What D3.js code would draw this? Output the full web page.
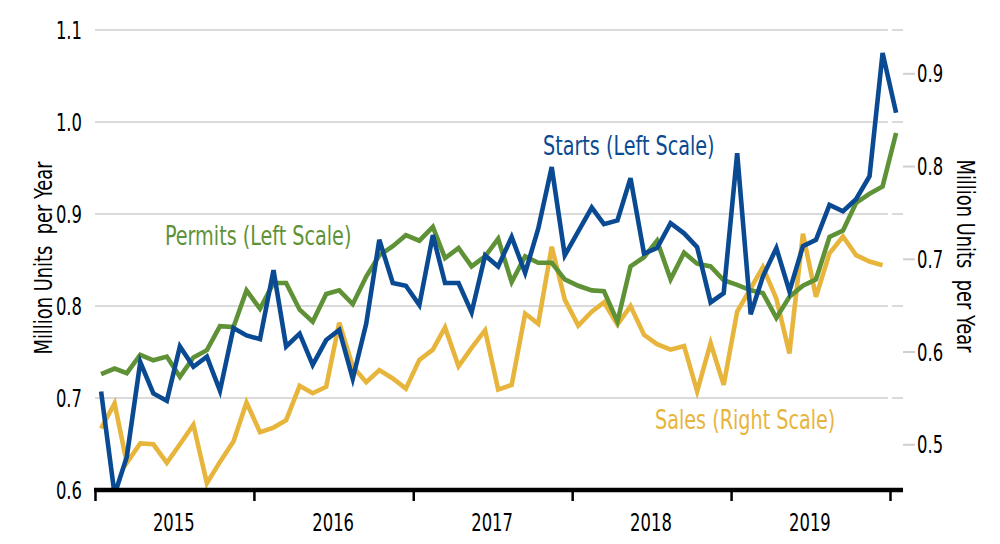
<!DOCTYPE html>
<html>
<head>
<meta charset="utf-8">
<script src="https://cdn.jsdelivr.net/npm/d3@7"></script>
<style>
  body { margin: 0; background: #fff; }
  text { font-family: "Liberation Sans Narrow", "DejaVu Sans Condensed", sans-serif; }
</style>
</head>
<body>
<script>
// monthly, Jan 2015 .. Jan 2020 (sales ends Dec 2019)
var months = d3.timeMonth.range(new Date(2015, 0, 1), new Date(2020, 1, 1));
var years = [2015, 2016, 2017, 2018, 2019];

var starts = [0.707, 0.595, 0.636, 0.739, 0.705, 0.697, 0.756, 0.734, 0.745, 0.708, 0.776, 0.768,
              0.764, 0.839, 0.756, 0.770, 0.736, 0.763, 0.774, 0.721, 0.781, 0.872, 0.825, 0.822,
              0.801, 0.877, 0.825, 0.825, 0.793, 0.855, 0.843, 0.875, 0.836, 0.884, 0.951, 0.855,
              0.881, 0.907, 0.889, 0.893, 0.939, 0.857, 0.863, 0.890, 0.879, 0.864, 0.804, 0.814,
              0.966, 0.791, 0.832, 0.863, 0.816, 0.865, 0.872, 0.910, 0.903, 0.916, 0.941, 1.075,
              1.010];

var permits = [0.726, 0.732, 0.727, 0.747, 0.741, 0.745, 0.723, 0.744, 0.752, 0.778, 0.777, 0.817,
               0.797, 0.825, 0.825, 0.796, 0.783, 0.813, 0.817, 0.802, 0.832, 0.855, 0.865, 0.877,
               0.871, 0.886, 0.852, 0.863, 0.843, 0.854, 0.873, 0.826, 0.854, 0.847, 0.847, 0.829,
               0.822, 0.817, 0.816, 0.783, 0.843, 0.853, 0.871, 0.829, 0.858, 0.846, 0.843, 0.828,
               0.823, 0.817, 0.814, 0.787, 0.810, 0.822, 0.829, 0.875, 0.882, 0.912, 0.922, 0.930,
               0.988];

var sales = [0.517, 0.544, 0.480, 0.501, 0.500, 0.480, 0.500, 0.521, 0.458, 0.481, 0.503, 0.545,
             0.513, 0.518, 0.526, 0.563, 0.555, 0.562, 0.631, 0.584, 0.567, 0.580, 0.571, 0.560,
             0.591, 0.602, 0.626, 0.584, 0.604, 0.623, 0.559, 0.564, 0.641, 0.630, 0.713, 0.656,
             0.628, 0.643, 0.653, 0.629, 0.649, 0.618, 0.608, 0.602, 0.606, 0.557, 0.609, 0.564,
             0.643, 0.668, 0.691, 0.657, 0.598, 0.727, 0.659, 0.706, 0.724, 0.704, 0.697, 0.693];

var leftTicks = [0.6, 0.7, 0.8, 0.9, 1.0, 1.1];
var rightTicks = [0.5, 0.6, 0.7, 0.8, 0.9];

var width = 1000, height = 544;
var plotLeft = 95, plotRight = 903, plotTop = 30, plotBottom = 490;

var blue = "#0a4a92", green = "#5f9237", gold = "#e7b53c";

var x = d3.scaleTime()
    .domain([new Date(2015, 0, 1), new Date(2020, 0, 1)])
    .range([plotLeft, 890]);
var yL = d3.scaleLinear().domain([0.6, 1.1]).range([plotBottom, plotTop]);
var yR = d3.scaleLinear().domain([0.4507, 0.9467]).range([plotBottom, plotTop]);

function mid(d) { return x(d3.timeDay.offset(d, 14)); }

// squeeze text so the fallback font looks condensed like the original
function narrow(sel, f) {
  sel.each(function() {
    var w = this.getComputedTextLength();
    d3.select(this).attr("textLength", w * f).attr("lengthAdjust", "spacingAndGlyphs");
  });
}

var svg = d3.select("body").append("svg")
    .attr("width", width)
    .attr("height", height);

svg.append("clipPath").attr("id", "plot")
  .append("rect")
    .attr("x", plotLeft).attr("y", 0)
    .attr("width", plotRight - plotLeft + 10).attr("height", plotBottom);

// gridlines (small break where the last year tick sits)
var grid = svg.append("g");
leftTicks.slice(1).forEach(function(t) {
  grid.append("line")
      .attr("x1", plotLeft).attr("x2", 888)
      .attr("y1", yL(t)).attr("y2", yL(t));
  grid.append("line")
      .attr("x1", 892).attr("x2", plotRight)
      .attr("y1", yL(t)).attr("y2", yL(t));
});
grid.selectAll("line").attr("stroke", "#dadada").attr("stroke-width", 2);

// left labels
svg.append("g").selectAll("text")
  .data(leftTicks)
  .enter().append("text")
    .attr("x", 82)
    .attr("y", function(d) { return yL(d); })
    .attr("dy", "0.36em")
    .attr("text-anchor", "end")
    .attr("font-size", 24)
    .text(function(d) { return d.toFixed(1); })
    .call(narrow, 0.76);

// right axis
var rAxis = d3.axisRight(yR)
    .tickValues(rightTicks)
    .tickSize(12)
    .tickPadding(2)
    .tickFormat(d3.format(".1f"));
var rg = svg.append("g")
    .attr("transform", "translate(" + plotRight + ",0)")
    .call(rAxis);
rg.select(".domain").remove();
rg.selectAll(".tick line").attr("stroke", "#d0d0d0").attr("stroke-width", 2);
rg.selectAll(".tick text")
    .attr("font-size", 24)
    .attr("dy", "0.36em")
    .attr("fill", "#000")
    .style("font-family", "'Liberation Sans Narrow', 'DejaVu Sans Condensed', sans-serif")
    .call(narrow, 0.76);

// lines
var plot = svg.append("g").attr("clip-path", "url(#plot)");

function drawLine(values, yScale, color) {
  var line = d3.line()
      .x(function(d, i) { return mid(months[i]); })
      .y(function(d) { return yScale(d); });
  plot.append("path")
      .datum(values)
      .attr("fill", "none")
      .attr("stroke", color)
      .attr("stroke-width", 4.6)
      .attr("stroke-linejoin", "miter")
      .attr("d", line);
}
drawLine(sales, yR, gold);
drawLine(permits, yL, green);
drawLine(starts, yL, blue);

// x axis
var xAxis = d3.axisBottom(x)
    .ticks(d3.timeYear.every(1))
    .tickSize(11)
    .tickFormat("");
var xg = svg.append("g")
    .attr("transform", "translate(0," + plotBottom + ")")
    .call(xAxis);
xg.select(".domain").remove();
xg.selectAll(".tick line").attr("stroke", "#000").attr("stroke-width", 2.5);
xg.append("line")
    .attr("x1", plotLeft - 1).attr("x2", plotRight)
    .attr("stroke", "#000").attr("stroke-width", 4.5);

svg.append("g").selectAll("text")
  .data(years)
  .enter().append("text")
    .attr("x", function(d) { return x(new Date(d, 6, 1)); })
    .attr("y", 531)
    .attr("text-anchor", "middle")
    .attr("font-size", 24)
    .text(function(d) { return d; })
    .call(narrow, 0.76);

// axis titles
svg.append("text")
    .attr("transform", "translate(52,258) rotate(-90)")
    .attr("text-anchor", "middle")
    .attr("font-size", 24)
    .attr("textLength", 193)
    .attr("lengthAdjust", "spacingAndGlyphs")
    .style("white-space", "pre")
    .text("Million Units  per Year");

svg.append("text")
    .attr("transform", "translate(957,256) rotate(90)")
    .attr("text-anchor", "middle")
    .attr("font-size", 24)
    .attr("textLength", 193)
    .attr("lengthAdjust", "spacingAndGlyphs")
    .style("white-space", "pre")
    .text("Million Units  per Year");

// series labels
svg.append("text")
    .attr("x", 543).attr("y", 155)
    .attr("font-size", 26)
    .attr("fill", blue)
    .text("Starts (Left Scale)")
    .call(narrow, 0.82);

svg.append("text")
    .attr("x", 165).attr("y", 245)
    .attr("font-size", 26)
    .attr("fill", green)
    .text("Permits (Left Scale)")
    .call(narrow, 0.82);

svg.append("text")
    .attr("x", 655).attr("y", 429)
    .attr("font-size", 26)
    .attr("fill", gold)
    .text("Sales (Right Scale)")
    .call(narrow, 0.82);
</script>
</body>
</html>
